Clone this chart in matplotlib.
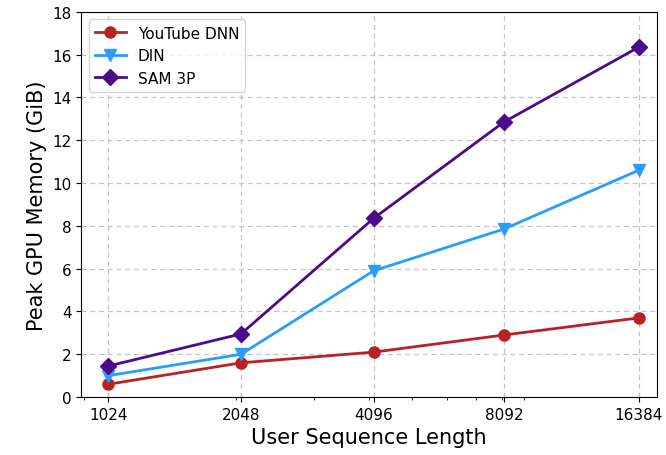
import numpy as np
import matplotlib
matplotlib.use('Agg')
import matplotlib.pyplot as plt

seq_len = [1024, 2048, 4096, 8092, 16384]
tick_labels = ['1024', '2048', '4096', '8092', '16384']
youtube_dnn = [0.6, 1.6, 2.1, 2.9, 3.7]
din = [1.0, 2.0, 5.9, 7.85, 10.6]
sam_3p = [1.45, 2.95, 8.35, 12.85, 16.35]

fig = plt.figure(figsize=(6.66, 4.56), dpi=100)
ax = fig.add_axes([0.122, 0.127, 0.864, 0.845])

ax.plot(seq_len, youtube_dnn, c='#b82226', marker='o', markersize=8, linewidth=2, label='YouTube DNN')
ax.plot(seq_len, din, c='#2a9bff', marker='v', markersize=9, linewidth=2, label='DIN')
ax.plot(seq_len, sam_3p, c='#4b0b8a', marker='D', markersize=8, linewidth=2, label='SAM 3P')

ax.set_xscale('log')
ax.set_xticks(seq_len)
ax.set_xticklabels(tick_labels)
ax.set_xlim(889, 17980)
ax.set_ylim(0, 18)
ax.set_yticks(np.arange(0, 19, 2))
ax.tick_params(labelsize=11)
ax.grid(True, which='major', linestyle=(0, (4, 3)), color='#c4c4c4', linewidth=0.9)

ax.set_xlabel('User Sequence Length', fontsize=15)
ax.set_ylabel('Peak GPU Memory (GiB)', fontsize=15)
ax.legend(loc='upper left', fontsize=11)

plt.savefig('out.png')
